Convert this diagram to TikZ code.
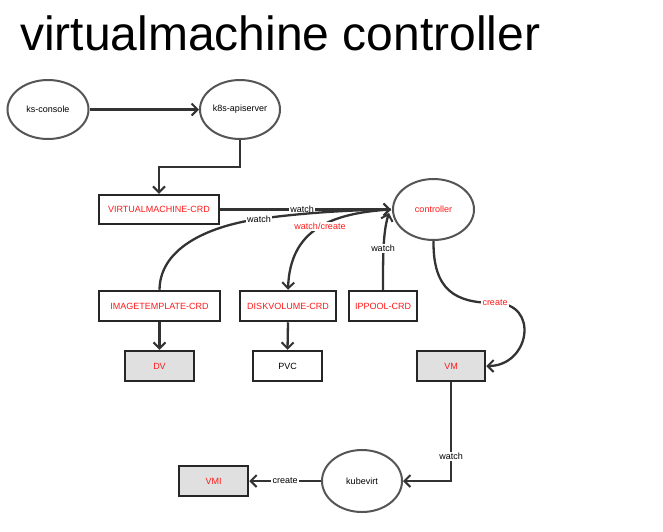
\documentclass[tikz,border=0pt]{standalone}
\usepackage{fontspec}
\setmainfont{Liberation Sans}
\usetikzlibrary{shapes.geometric,arrows.meta}
\definecolor{lnc}{HTML}{333333}
\definecolor{boxc}{HTML}{262626}
\definecolor{ellc}{HTML}{555555}
\definecolor{redt}{HTML}{FF1A1A}
\definecolor{grayf}{HTML}{E0E0E0}
\begin{document}
\begin{tikzpicture}[x=1pt,y=-1pt,
  every node/.style={font=\fontsize{9}{11}\selectfont, text=black},
  ell/.style={ellipse, draw=ellc, line width=2pt, fill=white, inner sep=0pt},
  box/.style={rectangle, draw=boxc, line width=2.5pt, fill=white, inner sep=0pt, minimum height=29pt},
  gbox/.style={box, fill=grayf},
  redtxt/.style={text=redt},
  conn/.style={draw=lnc, line width=2.3pt, -{Straight Barb[length=6pt,width=12pt,line width=2pt]}},
  lbl/.style={fill=white, inner sep=1.2pt}
]
\useasboundingbox (0,0) rectangle (663,531);
\node[anchor=base west, font=\fontsize{48}{50}\selectfont, inner sep=0pt, text=black] (title) at (20,50) {virtualmachine controller};

\node[ell, minimum width=81pt, minimum height=59pt] (ks) at (48,109.5) {ks-console};
\node[ell, minimum width=80pt, minimum height=59pt] (api) at (240,109.5) {k8s-apiserver};
\node[box, minimum width=120pt, redtxt] (vmcrd) at (159,209.5) {VIRTUALMACHINE-CRD};
\node[ell, minimum width=81pt, minimum height=61pt, redtxt] (ctrl) at (433.5,209.5) {controller};
\node[box, minimum width=121pt, minimum height=30pt, redtxt] (itcrd) at (159.5,306) {IMAGETEMPLATE-CRD};
\node[box, minimum width=96pt, minimum height=30pt, redtxt] (dvcrd) at (288,306) {DISKVOLUME-CRD};
\node[box, minimum width=68pt, minimum height=30pt, redtxt] (ipcrd) at (383,306) {IPPOOL-CRD};
\node[gbox, minimum width=69pt, minimum height=30pt, redtxt] (dv) at (159.5,366) {DV};
\node[box, minimum width=69pt, minimum height=30pt] (pvc) at (287.5,366) {PVC};
\node[gbox, minimum width=68pt, minimum height=30pt, redtxt] (vm) at (451,366) {VM};
\node[gbox, minimum width=69pt, minimum height=30pt, redtxt] (vmi) at (213.5,481) {VMI};
\node[ell, minimum width=80pt, minimum height=62pt] (kv) at (362,481) {kubevirt};

\coordinate (ctrlin) at (391,209.5);
\coordinate (ctrlin2) at (389,213);
\coordinate (apiturn) at (240,167);
\coordinate (vmcorner) at (451,481);

% ks-console -> apiserver
\draw[conn] (ks) -- (api);
% apiserver -> vm crd
\draw[conn] (api.south) -- (apiturn) -| (vmcrd.north);
% vm crd -> controller
\draw[conn] (vmcrd.east) -- node[lbl, pos=0.48] {watch} (ctrlin);
% imagetemplate -> controller
\draw[conn] (itcrd.north) .. controls (160,245) and (215,225) .. (259,219)
  .. controls (300,213) and (350,210) .. (ctrlin);
\node[lbl] (lwatch1) at (259,219) {watch};
% controller -> diskvolume
\draw[conn] (ctrlin) .. controls (330,213) and (290,230) .. (dvcrd.north);
\node[lbl, redtxt] (lwc) at (320,226) {watch/create};
% ippool -> controller
\draw[conn] (ipcrd.north) .. controls (383,255) and (383,232) .. (ctrlin2);
\node[lbl] (lwatch2) at (383,248) {watch};
% controller -> VM
\draw[conn] (ctrl.south) .. controls (433,290) and (455,303) .. (495,303)
  .. controls (540,303) and (530,366) .. (vm.east);
\node[lbl, redtxt] (lcreate1) at (495,303) {create};
% crd -> children
\draw[conn] (itcrd.south) -- (dv.north);
\draw[conn] (dvcrd.south) -- (pvc.north);
% VM -> kubevirt
\draw[conn] (vm.south) -- node[lbl, pos=0.75] {watch} (vmcorner) -- (kv.east);
% kubevirt -> VMI
\draw[conn] (kv.west) -- node[lbl] {create} (vmi.east);
\end{tikzpicture}
\end{document}
